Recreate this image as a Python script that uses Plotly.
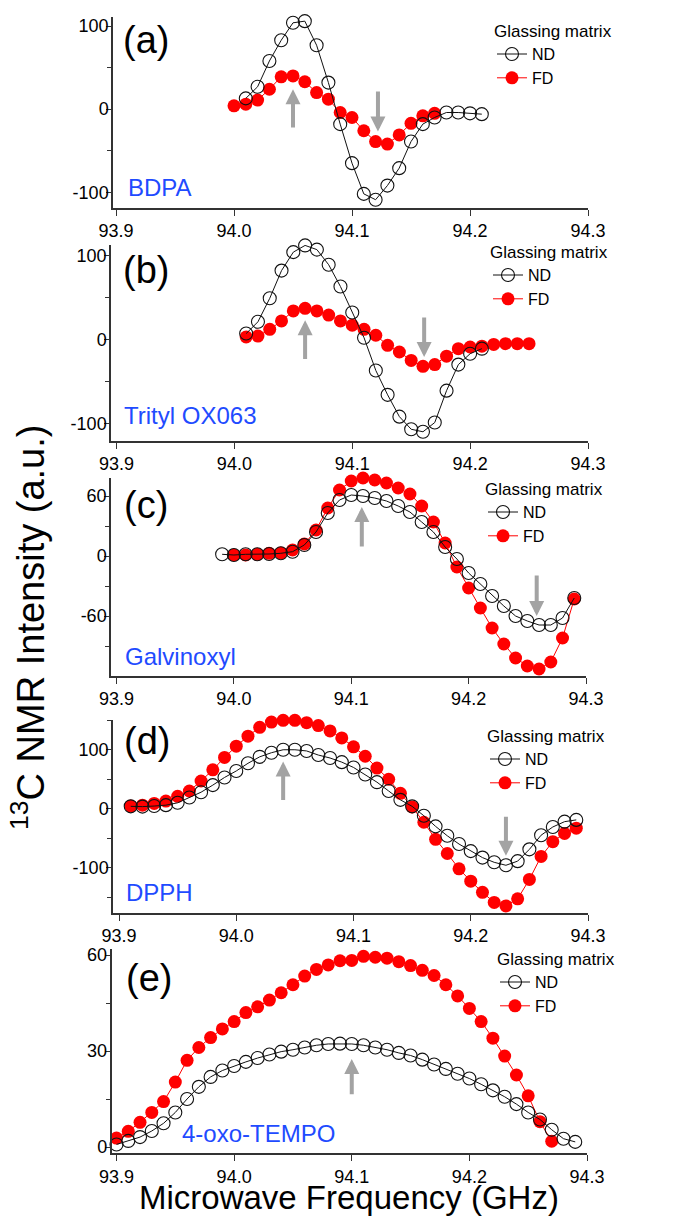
import plotly.graph_objects as go

FW, FH = 689, 1216
FONT = "Liberation Sans, Arial, Helvetica, sans-serif"

# ---------------- data ----------------
STEP = 0.01
FREQ_TICKS = [93.9, 94.0, 94.1, 94.2, 94.3]
FREQ_TICK_LABELS = ["93.9", "94.0", "94.1", "94.2", "94.3"]

# (a) BDPA
A_ND_START = 94.01
A_ND = [13, 27, 58, 83, 104, 106, 77, 32, -18, -65, -102, -109, -92, -71, -39,
        -18, -10, -4, -4, -5, -6]
A_FD_START = 94.00
A_FD = [4, 6, 11, 24, 39, 40, 33, 20, 12, -4, -10, -26, -39, -42, -31, -17, -8, -5]
A_ARROWS = [(94.05, -24, 24), (94.122, 23, -27)]   # (freq, tail, tip)

# (b) Trityl OX063
B_ND_START = 94.01
B_ND = [7, 21, 49, 82, 104, 112, 107, 89, 63, 32, 2, -37, -66, -92, -107, -110,
        -99, -61, -30, -17, -11]
B_FD_START = 94.01
B_FD = [3, 4, 12, 22, 34, 37, 34, 29, 22, 17, 12, 5, -7, -15, -25, -32, -30, -20,
        -11, -9, -8, -6, -5, -5, -5]
B_ARROWS = [(94.06, -25, 23), (94.161, 28, -21)]

# (c) Galvinoxyl
C_ND_START = 93.99
C_ND = [1.7, 1, 1.7, 1.7, 2, 2.7, 4.3, 11, 24, 43, 56, 61, 60, 58, 55, 50, 44, 34,
        24, 9, -3, -17, -28, -40, -50, -60, -65, -69, -69, -62, -42]
C_FD_START = 94.00
C_FD = [1, 1, 1.7, 2.7, 3, 6, 12, 26, 48, 66, 75, 78, 76, 73, 68, 62, 50, 34, 13,
        -11, -32, -52, -72, -88, -102, -110, -113, -106, -82, -43]
C_ARROWS = [(94.109, 8, 49), (94.258, -18, -60)]

# (d) DPPH
D_ND_START = 93.91
D_ND = [4, 3.5, 4.5, 6, 10, 19, 28, 40, 53, 64, 77, 88, 95, 100, 100, 98, 91, 86,
        79, 70, 58, 45, 30, 15, 4, -12, -30, -46, -60, -72, -83, -91, -96, -89,
        -69, -45, -31, -22, -19]
D_FD_START = 93.91
D_FD = [4.5, 6, 9, 13, 21, 30, 47, 66, 87, 106, 123, 138, 147, 150, 150, 146, 141,
        132, 120, 105, 89, 69, 50, 26, 3, -23, -52, -76, -102, -123, -142, -159,
        -165, -153, -120, -81, -56, -42, -33]
D_ARROWS = [(94.04, 12, 80), (94.23, -11, -80)]

# (e) 4-oxo-TEMPO
E_ND_START = 93.90
E_ND = [0.8, 1.9, 3.1, 5, 7.4, 10.8, 15, 18.8, 21.9, 23.9, 25.3, 26.6, 27.8, 28.9,
        29.8, 30.4, 31.1, 31.8, 32.2, 32.3, 32.2, 31.8, 31.1, 30.4, 29.4, 28.6,
        27.3, 25.8, 24.4, 22.9, 21.4, 19.6, 17.7, 15.7, 13.4, 10.8, 8.6, 5.4, 2.6, 1.6]
E_FD_START = 93.90
E_FD = [2.8, 4.9, 7.7, 10.8, 14.2, 20.3, 27.1, 31.1, 34.2, 36.9, 39.2, 42, 43.8,
        45.9, 48.2, 50.7, 53.4, 55.5, 56.9, 58.2, 58.3, 59.6, 59.3, 59, 57.9, 56.7,
        55.2, 53.6, 50.7, 47.2, 43.3, 39.2, 34, 28.4, 22.5, 16, 7.9, 1.8]
E_ARROWS = [(94.10, 16, 27.5)]

PANEL_LETTERS = ["(a)", "(b)", "(c)", "(d)", "(e)"]
COMPOUNDS = ["BDPA", "Trityl OX063", "Galvinoxyl", "DPPH", "4-oxo-TEMPO"]
LEGEND_TITLE = "Glassing matrix"
SERIES_NAMES = ["ND", "FD"]

Y_TICKS = [[-100, 0, 100], [-100, 0, 100], [-60, 0, 60], [-100, 0, 100], [0, 30, 60]]
Y_TICK_LABELS = [["-100", "0", "100"], ["-100", "0", "100"], ["-60", "0", "60"],
                 ["-100", "0", "100"], ["0", "30", "60"]]
Y_MINOR = [[-50, 50], [-50, 50], [-90, -30, 30], [-150, -50, 50, 150], [15, 45]]
Y_RANGES = [[-119, 111], [-121, 112.5], [-120, 78.5], [-177, 150.5], [-2, 62]]

ND_DATA = [(A_ND_START, A_ND), (B_ND_START, B_ND), (C_ND_START, C_ND),
           (D_ND_START, D_ND), (E_ND_START, E_ND)]
FD_DATA = [(A_FD_START, A_FD), (B_FD_START, B_FD), (C_FD_START, C_FD),
           (D_FD_START, D_FD), (E_FD_START, E_FD)]
ARROWS = [A_ARROWS, B_ARROWS, C_ARROWS, D_ARROWS, E_ARROWS]

# ---------------- layout geometry (pixels) ----------------
GEOM = [
    dict(top=17, bottom=208, ax=113, p0=116, p1=588),
    dict(top=245, bottom=441, ax=111, p0=116.5, p1=588),
    dict(top=477.5, bottom=676, ax=111, p0=116.5, p1=586),
    dict(top=720, bottom=913, ax=113, p0=119, p1=588),
    dict(top=948.6, bottom=1153.4, ax=111.5, p0=116.5, p1=587),
]
LETTER_POS = [(121, 40), (121, 270), (122, 505), (122, 741), (124, 978)]
NAME_POS = [(126, 188), (122, 416), (123, 656), (124, 892), (180, 1133)]
LEGEND_POS = [(492, 15), (488, 236), (483, 473), (485, 720), (495, 943)]


def px(x):
    return x / FW


def py(y):
    return 1 - y / FH


def freqs(start, n):
    return [round(start + STEP * i, 3) for i in range(n)]


fig = go.Figure()
layout = dict(
    width=FW, height=FH, autosize=False,
    margin=dict(l=0, r=0, t=0, b=0, pad=0, autoexpand=False),
    paper_bgcolor="white", plot_bgcolor="white",
    font=dict(family=FONT, size=18, color="black"),
    showlegend=True,
)
annotations = []
AXC = "#333333"
BLUE = "#1f4bff"
ARROWC = "#a3a3a3"

for i in range(5):
    n = i + 1
    xa = "x" if n == 1 else f"x{n}"
    ya = "y" if n == 1 else f"y{n}"
    lg = "legend" if n == 1 else f"legend{n}"
    g = GEOM[i]
    ppu = (g["p1"] - g["p0"]) / 0.4
    x_lo = 93.9 - (g["p0"] - g["ax"]) / ppu
    layout["xaxis" if n == 1 else f"xaxis{n}"] = dict(
        domain=[px(g["ax"]), px(g["p1"])], range=[x_lo, 94.3], anchor=ya,
        tickmode="array", tickvals=FREQ_TICKS, ticktext=FREQ_TICK_LABELS,
        ticks="outside", ticklen=6, tickwidth=1.3, tickcolor=AXC,
        showline=True, linecolor=AXC, linewidth=1.5, showgrid=False,
        zeroline=False, automargin=False,
        tickfont=dict(size=18, family=FONT, color="black"),
    )
    layout["yaxis" if n == 1 else f"yaxis{n}"] = dict(
        domain=[py(g["bottom"]), py(g["top"])], range=Y_RANGES[i], anchor=xa,
        tickmode="array", tickvals=Y_TICKS[i], ticktext=Y_TICK_LABELS[i],
        ticks="outside", ticklen=5, tickwidth=1.3, tickcolor=AXC,
        ticklabelstandoff=-6,
        minor=dict(tickmode="array", tickvals=Y_MINOR[i], ticks="outside",
                   ticklen=4, tickwidth=1.2, tickcolor=AXC, showgrid=False),
        showline=True, linecolor=AXC, linewidth=1.5, showgrid=False,
        zeroline=False, automargin=False,
        tickfont=dict(size=18, family=FONT, color="black"),
    )
    fs, fv = FD_DATA[i]
    ns, nv = ND_DATA[i]
    fig.add_trace(go.Scatter(
        x=freqs(fs, len(fv)), y=fv, mode="lines+markers", name=SERIES_NAMES[1],
        xaxis=xa, yaxis=ya, legend=lg, legendrank=2, cliponaxis=False,
        line=dict(color="#ff0000", width=1),
        marker=dict(symbol="circle", size=13, color="#ff0000", line=dict(width=0)),
    ))
    fig.add_trace(go.Scatter(
        x=freqs(ns, len(nv)), y=nv, mode="lines+markers", name=SERIES_NAMES[0],
        xaxis=xa, yaxis=ya, legend=lg, legendrank=1, cliponaxis=False,
        line=dict(color="#111111", width=1),
        marker=dict(symbol="circle", size=13, color="rgba(0,0,0,0)",
                    line=dict(color="#111111", width=1.1)),
    ))
    lx, ly = LEGEND_POS[i]
    layout[lg] = dict(
        x=px(lx), y=py(ly), xanchor="left", yanchor="top",
        bgcolor="rgba(0,0,0,0)", borderwidth=0, itemwidth=30,
        font=dict(size=16, family=FONT, color="black"),
        title=dict(text=LEGEND_TITLE, side="top",
                   font=dict(size=17, family=FONT, color="black")),
        tracegroupgap=0,
    )
    x0, y0 = LETTER_POS[i]
    annotations.append(dict(
        text=PANEL_LETTERS[i], x=px(x0), y=py(y0), xref="paper", yref="paper",
        xanchor="left", yanchor="middle", showarrow=False,
        font=dict(size=38, family=FONT, color="black")))
    x0, y0 = NAME_POS[i]
    annotations.append(dict(
        text=COMPOUNDS[i], x=px(x0), y=py(y0), xref="paper", yref="paper",
        xanchor="left", yanchor="middle", showarrow=False,
        font=dict(size=24, family=FONT, color=BLUE)))
    for (fq, tail, tip) in ARROWS[i]:
        annotations.append(dict(
            text="", x=fq, y=tip, ax=fq, ay=tail, xref=xa, yref=ya,
            axref=xa, ayref=ya, showarrow=True, arrowhead=2, arrowsize=0.75,
            arrowwidth=4, arrowcolor=ARROWC, standoff=0, startstandoff=0))

annotations.append(dict(
    text="Microwave Frequency (GHz)", x=px(349), y=py(1197), xref="paper",
    yref="paper", xanchor="center", yanchor="middle", showarrow=False,
    font=dict(size=33, family=FONT, color="black")))
annotations.append(dict(
    text="<sup>13</sup>C NMR Intensity (a.u.)", x=px(28), y=py(628), xref="paper",
    yref="paper", xanchor="center", yanchor="middle", showarrow=False,
    textangle=-90, font=dict(size=38, family=FONT, color="black")))

layout["annotations"] = annotations
fig.update_layout(**layout)
fig.write_html(
    "out.html",
    config={"displayModeBar": False},
    post_script="document.body.style.margin='0px';document.body.style.padding='0px';"
                "document.documentElement.style.overflow='hidden';",
)
